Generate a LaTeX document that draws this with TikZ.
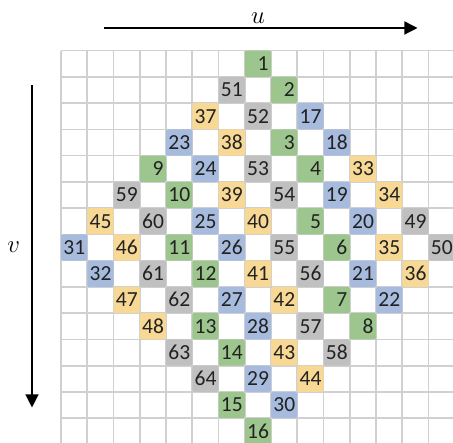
\documentclass[tikz,border=0pt]{standalone}
\usepackage{fontspec}
\setsansfont{Carlito}
\usetikzlibrary{arrows.meta}
\definecolor{GridLine}{HTML}{D0D0D0}
\definecolor{CellGreen}{HTML}{9DC68E}
\definecolor{CellBlue}{HTML}{A6BBDD}
\definecolor{CellYellow}{HTML}{F7D894}
\definecolor{CellGray}{HTML}{C0C0C0}
\definecolor{Text}{HTML}{222222}

\begin{document}
\begin{tikzpicture}[x=26.25pt,y=-26.25pt,font=\sffamily,cell/.style={rounded corners=2pt,minimum height=26.25pt,inner xsep=2.4pt,inner ysep=0pt,text width=21.45pt,text height=13.8pt,text depth=0pt,align=right,font=\sffamily\fontsize{21.5}{21.5}\selectfont,text=Text},axis/.style={-{Triangle[length=13pt,width=13pt]},line width=1.3pt},gridrule/.style={draw=GridLine,line width=1.6pt}]
\useasboundingbox (-2.324,-1.931) rectangle (14.933,14.907);
\begin{scope}
\clip (-2.324,-1.931) rectangle (14.933,14.907);
\foreach \i in {0,...,15}{\draw[gridrule] (\i,0) -- (\i,15);\draw[gridrule] (0,\i) -- (15,\i);}
% coloured cells: column/row/number
\foreach \c/\r/\n in {7/0/1,8/1/2,8/3/3,9/4/4,9/6/5,10/7/6,10/9/7,11/10/8,3/4/9,4/5/10,4/7/11,5/8/12,5/10/13,6/11/14,6/13/15,7/14/16}{\node[cell,fill=CellGreen] (n\n) at (\c+0.5,\r+0.5){\n};}
\foreach \c/\r/\n in {9/2/17,10/3/18,10/5/19,11/6/20,11/8/21,12/9/22,4/3/23,5/4/24,5/6/25,6/7/26,6/9/27,7/10/28,7/12/29,8/13/30,0/7/31,1/8/32}{\node[cell,fill=CellBlue] (n\n) at (\c+0.5,\r+0.5){\n};}
\foreach \c/\r/\n in {11/4/33,12/5/34,12/7/35,13/8/36,5/2/37,6/3/38,6/5/39,7/6/40,7/8/41,8/9/42,8/11/43,9/12/44,1/6/45,2/7/46,2/9/47,3/10/48}{\node[cell,fill=CellYellow] (n\n) at (\c+0.5,\r+0.5){\n};}
\foreach \c/\r/\n in {13/6/49,14/7/50,6/1/51,7/2/52,7/4/53,8/5/54,8/7/55,9/8/56,9/10/57,10/11/58,2/5/59,3/6/60,3/8/61,4/9/62,4/11/63,5/12/64}{\node[cell,fill=CellGray] (n\n) at (\c+0.5,\r+0.5){\n};}
\end{scope}
% axes
\coordinate (uStart) at (1.638,-0.865);\coordinate (uEnd) at (13.58,-0.865);
\coordinate (vStart) at (-1.105,1.307);\coordinate (vEnd) at (-1.105,13.59);
\draw[axis] (uStart) -- (uEnd);
\draw[axis] (vStart) -- (vEnd);
\node[inner sep=0pt,font=\fontsize{28}{28}\selectfont] (uLabel) at (7.505,-1.227){$u$};
\node[inner sep=0pt,font=\fontsize{28}{28}\selectfont] (vLabel) at (-1.802,7.478){$v$};
\end{tikzpicture}
\end{document}
